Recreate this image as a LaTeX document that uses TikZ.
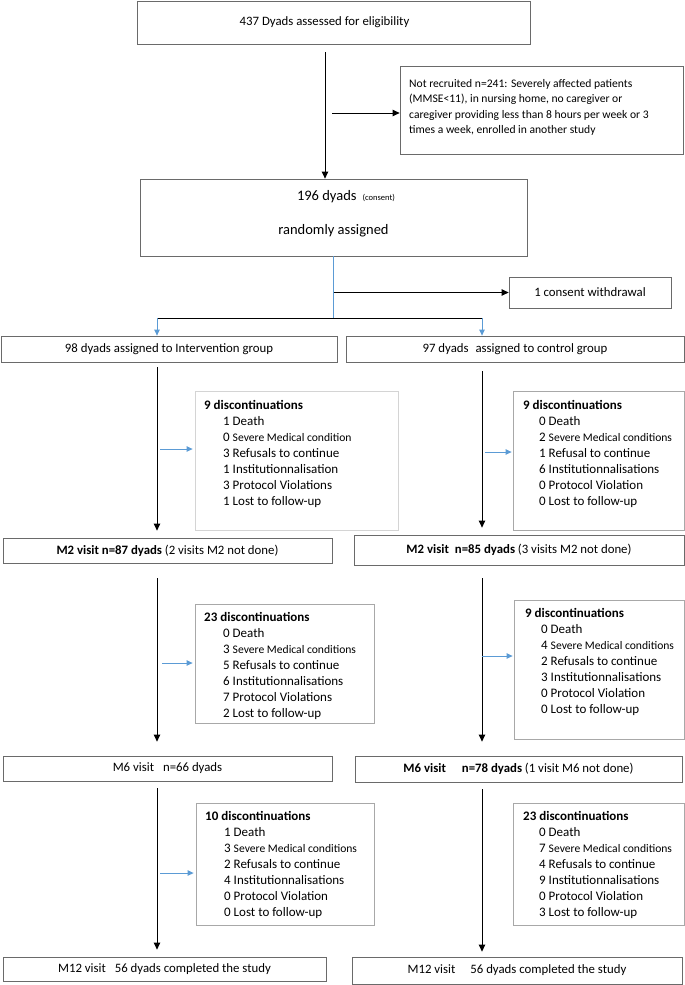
\documentclass[tikz,border=0pt]{standalone}
\usepackage{fontspec}
\setmainfont{Carlito}
\usetikzlibrary{arrows.meta,calc}
\definecolor{bl}{HTML}{5B9BD5}
\definecolor{bd}{HTML}{6A6A6A}
\definecolor{bdl}{HTML}{D4D4D4}
\definecolor{bdm}{HTML}{A8A8A8}
\newcommand{\smc}[1]{{\fontsize{11.6}{16}\selectfont #1}}
\newcommand{\itmL}{\hspace*{19pt}}
\newcommand{\itmR}{\hspace*{16pt}}
\tikzset{
  box/.style={draw=bd, line width=0.8pt, inner sep=0pt, align=center,
    font=\fontsize{12.8}{15}\selectfont},
  dbox/.style={draw=bdm, line width=0.8pt, inner sep=0pt},
  dtext/.style={inner sep=0pt, align=left, anchor=north west,
    font=\fontsize{13}{16}\selectfont},
  arr/.style={draw=black, line width=1pt, -{Triangle[length=7pt,width=6.5pt]}},
  barr/.style={draw=bl, line width=1pt, -{Triangle[length=6pt,width=5.5pt]}},
}
\begin{document}
\begin{tikzpicture}[x=1pt,y=-1pt]
\useasboundingbox (0,0) rectangle (685,985);

% main boxes
\node[box, minimum width=393, minimum height=43] (elig) at (333.5,22.5) {\hspace*{-18pt}437 Dyads assessed for eligibility};
\node[box, minimum width=283, minimum height=88] (nr) at (541.5,110) {};
\node[inner sep=0pt, align=left, anchor=north west,
  font=\fontsize{11.6}{15.5}\selectfont] (nrt) at (409,79)
  {Not recruited n=241: Severely affected patients\\ (MMSE<11), in nursing home, no caregiver or\\ caregiver providing less than 8 hours per week or 3\\ times a week, enrolled in another study};
\node[box, minimum width=387, minimum height=77] (cons) at (333.5,217.5) {};
\node[inner sep=0pt, font=\fontsize{14.5}{16}\selectfont] (consa) at (346,197) {196 dyads\hspace{6pt}{\fontsize{8.5}{10}\selectfont(consent)}};
\node[inner sep=0pt, font=\fontsize{14.5}{16}\selectfont] (consb) at (333.5,231) {randomly assigned};
\node[box, minimum width=162, minimum height=31] (wd) at (590,292.5) {1 consent withdrawal};
\node[box, minimum width=336, minimum height=26] (g1) at (169,349) {98 dyads assigned to Intervention group};
\node[box, minimum width=338, minimum height=26] (g2) at (515,349) {97 dyads\hspace{4pt} assigned to control group};
\node[box, minimum width=329, minimum height=25] (m2a) at (167.5,550.5) {\textbf{M2 visit n=87 dyads} (2 visits M2 not done)};
\node[box, minimum width=330, minimum height=30] (m2b) at (519,550) {\textbf{M2 visit\hspace{6pt}n=85 dyads} (3 visits M2 not done)};
\node[box, minimum width=329, minimum height=25] (m6a) at (167.5,768.5) {M6 visit\hspace{9pt}n=66 dyads};
\node[box, minimum width=327, minimum height=26] (m6b) at (518.5,769) {\textbf{M6 visit\hspace{16pt}n=78 dyads} (1 visit M6 not done)};
\node[box, minimum width=323, minimum height=24] (m12a) at (164.5,969) {M12 visit\hspace{9pt}56 dyads completed the study};
\node[box, minimum width=330, minimum height=27] (m12b) at (517,970.5) {M12 visit\hspace{15pt}56 dyads completed the study};

% discontinuation boxes
\node[dbox, draw=bdl, minimum width=203, minimum height=139] (d1L) at (296.5,460.5) {};
\node[dtext] (d1Lt) at (204,400) {\textbf{9 discontinuations}\\
 \itmL 1 Death\\ \itmL 0 \smc{Severe Medical condition}\\ \itmL 3 Refusals to continue\\
 \itmL 1 Institutionnalisation\\ \itmL 3 Protocol Violations\\ \itmL 1 Lost to follow-up};
\node[dbox, minimum width=171, minimum height=139] (d1R) at (598.5,460.5) {};
\node[dtext] (d1Rt) at (523,400) {\textbf{9 discontinuations}\\
 \itmR 0 Death\\ \itmR 2 \smc{Severe Medical conditions}\\ \itmR 1 Refusal to continue\\
 \itmR 6 Institutionnalisations\\ \itmR 0 Protocol Violation\\ \itmR 0 Lost to follow-up};

\node[dbox, minimum width=179, minimum height=119] (d2L) at (284.5,663.5) {};
\node[dtext] (d2Lt) at (204,612) {\textbf{23 discontinuations}\\
 \itmL 0 Death\\ \itmL 3 \smc{Severe Medical conditions}\\ \itmL 5 Refusals to continue\\
 \itmL 6 Institutionnalisations\\ \itmL 7 Protocol Violations\\ \itmL 2 Lost to follow-up};
\node[dbox, minimum width=170, minimum height=139] (d2R) at (599,669.5) {};
\node[dtext] (d2Rt) at (525,608) {\textbf{9 discontinuations}\\
 \itmR 0 Death\\ \itmR 4 \smc{Severe Medical conditions}\\ \itmR 2 Refusals to continue\\
 \itmR 3 Institutionnalisations\\ \itmR 0 Protocol Violation\\ \itmR 0 Lost to follow-up};

\node[dbox, minimum width=178, minimum height=122] (d3L) at (285,864) {};
\node[dtext] (d3Lt) at (205,811) {\textbf{10 discontinuations}\\
 \itmL 1 Death\\ \itmL 3 \smc{Severe Medical conditions}\\ \itmL 2 Refusals to continue\\
 \itmL 4 Institutionnalisations\\ \itmL 0 Protocol Violation\\ \itmL 0 Lost to follow-up};
\node[dbox, minimum width=171, minimum height=122] (d3R) at (598.5,864) {};
\node[dtext] (d3Rt) at (523,811) {\textbf{23 discontinuations}\\
 \itmR 0 Death\\ \itmR 7 \smc{Severe Medical conditions}\\ \itmR 4 Refusals to continue\\
 \itmR 9 Institutionnalisations\\ \itmR 0 Protocol Violation\\ \itmR 3 Lost to follow-up};

% coordinates
\coordinate (ax) at (325,0);
\coordinate (nrA) at (332,113);
\coordinate (br) at (333.5,318);
\coordinate (wdA) at (333.5,292.5);
\coordinate (brL) at (157,318);
\coordinate (brR) at (482,318);
\coordinate (colL) at (157,0);
\coordinate (colR) at (482,0);
\coordinate (b1L) at (160,449);
\coordinate (b1R) at (485,452);
\coordinate (b2L) at (162,663);
\coordinate (b2R) at (482,656);
\coordinate (b3L) at (160,873);

% connectors
\draw[arr] ([yshift=-8pt]elig.south -| ax) -- (cons.north -| ax);
\draw[arr] (nrA) -- (nrA -| nr.west);
\draw[bl, line width=1pt] (cons.south) -- (br);
\draw[arr] (wdA) -- (wd.west);
\draw[black, line width=1pt] (brL) -- (brR);
\draw[barr] (brL) -- (g1.north -| brL);
\draw[barr] (brR) -- (g2.north -| brR);

\draw[arr] ([yshift=-5pt]g1.south -| colL) -- ([yshift=7pt]m2a.north -| colL);
\draw[arr] ([yshift=-9pt]g2.south -| colR) -- ([yshift=7pt]m2b.north -| colR);
\draw[barr, shorten >=2pt] (b1L) -- (b1L -| d1L.west);
\draw[barr, shorten >=1pt] (b1R) -- (b1R -| d1R.west);

\draw[arr] ([yshift=-15pt]m2a.south -| colL) -- ([yshift=14pt]m6a.north -| colL);
\draw[arr] ([yshift=-13pt]m2b.south -| colR) -- ([yshift=14pt]m6b.north -| colR);
\draw[barr, shorten >=2pt] (b2L) -- (b2L -| d2L.west);
\draw[barr, shorten >=1pt] (b2R) -- (b2R -| d2R.west);

\draw[arr] ([yshift=-7pt]m6a.south -| colL) -- ([yshift=7pt]m12a.north -| colL);
\draw[arr] ([yshift=-7pt]m6b.south -| colR) -- ([yshift=5pt]m12b.north -| colR);
\draw[barr, shorten >=2pt] (b3L) -- (b3L -| d3L.west);
\end{tikzpicture}
\end{document}
